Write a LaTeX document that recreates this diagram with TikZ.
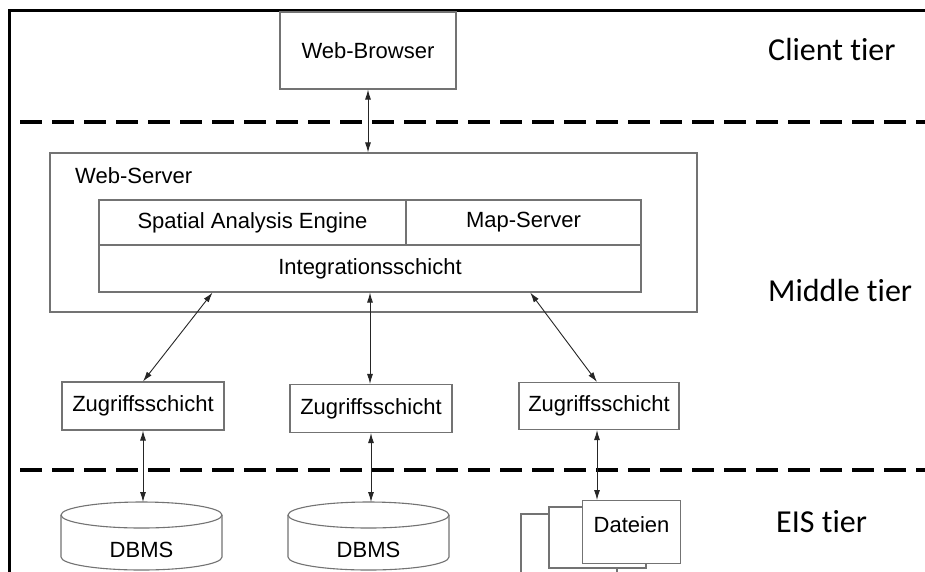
\documentclass[tikz,border=0pt]{standalone}
\usepackage{fontspec}
\setmainfont{Liberation Sans}
\newfontfamily\tierfont[Ligatures=NoCommon]{Carlito}
\usetikzlibrary{arrows.meta,calc}
\begin{document}
\begin{tikzpicture}[x=1pt,y=-1pt,
  box/.style={draw=black!55, line width=1.1pt, fill=white, inner sep=0pt, font=\fontsize{22}{26}\selectfont},
  lbl/.style={inner sep=0pt, font=\fontsize{22}{26}\selectfont},
  tier/.style={inner sep=0pt, anchor=west, font=\tierfont\fontsize{32}{38}\selectfont},
  conn/.style={draw=black!85, line width=0.9pt, {Latex[length=10pt,width=6pt]}-{Latex[length=10pt,width=6pt]}},
  sep/.style={line width=4pt, dash pattern=on 22pt off 10pt},
  cyl/.style={draw=black!55, line width=1.1pt, fill=white},
]
\useasboundingbox (0,0) rectangle (925,571);
\clip (0,0) rectangle (925,571);
\fill[white] (0,0) rectangle (925,571);

% frame
\draw[line width=3pt] (9,575) -- (9,10) -- (930,10);

% separators
\draw[sep] (20,122) -- (930,122);
\draw[sep] (20,470) -- (930,470);

% tier labels
\node[tier] (client) at (768,50) {Client tier};
\node[tier] (middle) at (768,290) {Middle tier};
\node[tier] (eis) at (776,522) {EIS tier};

% client
\node[box, minimum width=176pt, minimum height=77pt] (wb) at (368,50.5) {Web-Browser};

% web server
\node[box, minimum width=647pt, minimum height=159pt] (ws) at (373.5,232.5) {};
\node[lbl, anchor=west] (wslbl) at (75,176) {Web-Server};
\node[box, minimum width=307pt, minimum height=45pt] (sae) at (252.5,222.5) {Spatial Analysis Engine};
\node[box, minimum width=235pt, minimum height=45pt] (ms) at (523.5,222.5) {Map-Server};
\node[box, minimum width=542pt, minimum height=47pt] (integ) at (370,268.5) {Integrationsschicht};

% access layers
\node[box, minimum width=162pt, minimum height=48pt] (z1) at (143,406) {Zugriffsschicht};
\node[box, minimum width=162pt, minimum height=48pt] (z2) at (371,408.5) {Zugriffsschicht};
\node[box, minimum width=160pt, minimum height=47pt] (z3) at (599,406) {Zugriffsschicht};

% databases
\draw[cyl] (61,515) -- (61,557) arc[start angle=180, end angle=0, x radius=80.5, y radius=13] -- (222,515);
\draw[cyl] (141.5,515) ellipse [x radius=80.5, y radius=13];
\coordinate (db1top) at (141.5,502);
\node[lbl] (db1) at (141.5,550) {DBMS};

\draw[cyl] (288,515) -- (288,557) arc[start angle=180, end angle=0, x radius=80.5, y radius=13] -- (449,515);
\draw[cyl] (368.5,515) ellipse [x radius=80.5, y radius=13];
\coordinate (db2top) at (368.5,502);
\node[lbl] (db2) at (368.5,550) {DBMS};

% files
\draw[cyl] (521,514) rectangle (617,585);
\draw[cyl] (549,507) rectangle (646,568);
\node[box, anchor=north west, minimum width=98pt, minimum height=63pt] (dat) at (582,500) {};
\node[lbl] (datlbl) at ($(dat.center)+(0,-7)$) {Dateien};

% connector ends
\coordinate (iL) at ($(integ.south west)!0.21!(integ.south east)$);
\coordinate (iR) at ($(integ.south west)!0.795!(integ.south east)$);
\coordinate (z3t) at ($(z3.north)+(-2,0)$);
\coordinate (z3b) at ($(z3.south)+(-2,0)$);

% connectors
\draw[conn] (wb.south) -- (wb.south |- ws.north);
\draw[conn] (iL) -- (z1.north);
\draw[conn] (integ.south) -- (integ.south |- z2.north);
\draw[conn] (iR) -- (z3t);
\draw[conn] (z1.south) -- (z1.south |- db1top);
\draw[conn] (z2.south) -- (z2.south |- db2top);
\draw[conn] (z3b) -- (z3b |- dat.north);
\end{tikzpicture}
\end{document}
